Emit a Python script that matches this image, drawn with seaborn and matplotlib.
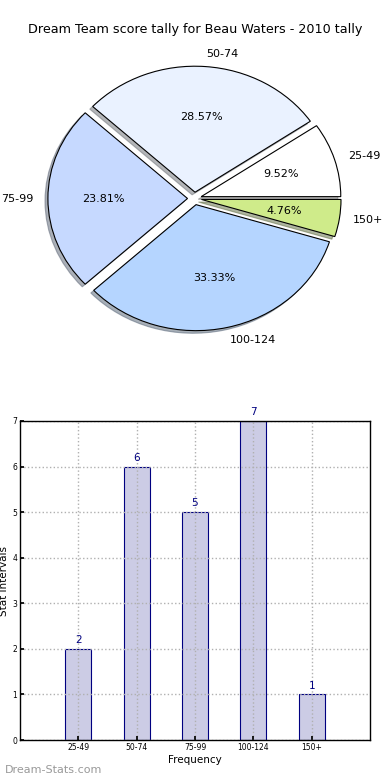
import matplotlib
matplotlib.use("Agg")
import matplotlib.pyplot as plt
import seaborn as sns
import pandas as pd

categories = ["25-49", "50-74", "75-99", "100-124", "150+"]
counts = [2, 6, 5, 7, 1]
pie_colors = ["#ffffff", "#eaf2ff", "#c6d9ff", "#b5d5ff", "#cfeb8a"]
title = "Dream Team score tally for Beau Waters - 2010 tally"

sns.set_theme(style="white")
plt.rcParams['font.family'] = ['DejaVu Sans']
plt.rcParams['text.color'] = 'black'
plt.rcParams['xtick.color'] = 'black'
plt.rcParams['ytick.color'] = 'black'
plt.rcParams['axes.labelcolor'] = 'black'

fig = plt.figure(figsize=(3.9, 7.8), dpi=100)

# Pie
axp = fig.add_axes([20/390, 1 - 356/780, 349/390, 315/780])
wedges, texts, autotexts = axp.pie(
    counts, labels=categories, colors=pie_colors, explode=[0.05]*5,
    autopct="%1.2f%%", startangle=0, counterclock=True,
    shadow=dict(ox=-0.015, oy=-0.015, shade=0.55),
    pctdistance=0.6, labeldistance=1.1,
    wedgeprops=dict(edgecolor="black", linewidth=0.8),
    textprops=dict(fontsize=8, color='black'))
axp.set_aspect('auto')
axp.set_xlim(-1.25, 1.25)
axp.set_ylim(-1.25, 1.25)
fig.text(0.5, 1 - 30/780, title, ha='center', va='center', fontsize=9.2)

# Bars
axb = fig.add_axes([20/390, 40/780, 350/390, 319/780])
df = pd.DataFrame({"cat": categories, "count": counts})
sns.barplot(data=df, x="cat", y="count", ax=axb, color="#ccccE5",
            edgecolor="#000080", linewidth=0.8, width=0.45, saturation=1)
axb.set_xlim(-1, 5)
axb.set_ylim(0, 7)
axb.set_yticks(range(0, 8))
axb.grid(True, linestyle=':', color='#b0b0b0', linewidth=1)
axb.set_axisbelow(False)
for p, v in zip(axb.patches, counts):
    axb.text(p.get_x() + p.get_width()/2, v + 0.08, str(v), ha='center',
             va='bottom', fontsize=7.5, color='#000080')
axb.tick_params(axis='both', labelsize=5.5, direction='in', length=3,
                bottom=True, left=True, pad=2)
for s in axb.spines.values():
    s.set_color('black')
    s.set_linewidth(1)
    s.set_zorder(5)
axb.set_xlabel("Frequency", fontsize=7.5, labelpad=2)
axb.set_ylabel("Stat Intervals", fontsize=7.5)
axb.yaxis.set_label_coords(-0.03, 0.5)

fig.text(5/390, 1 - 770/780, "Dream-Stats.com", ha='left', va='center',
         fontsize=8, color='#999999')

fig.savefig("out.png", dpi=100)
